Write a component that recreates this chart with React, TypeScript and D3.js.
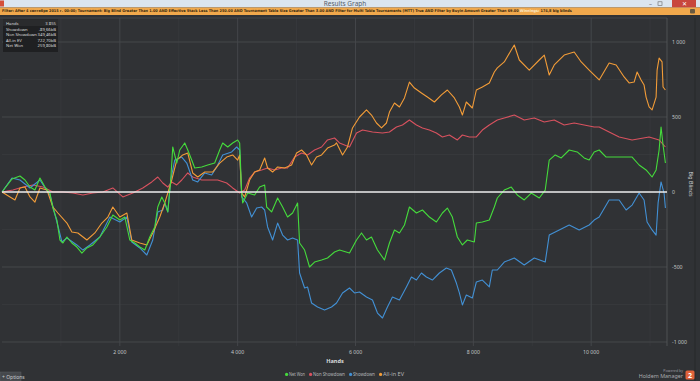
import React from 'react';
import * as d3 from 'd3';

type P = [number, number];

// [hands, big blinds]
const netWon: P[] = [
  [0,0],[170,87],[305,107],[390,80],[475,33],[559,13],[644,93],[730,33],[814,-7],[864,-107],[932,-187],[983,-320],[1034,-340],[1102,-300],[1186,-340],[1271,-367],[1356,-407],[1441,-373],[1542,-353],[1661,-300],[1780,-233],[1881,-153],[2000,-187],[2085,-167],[2169,-320],[2254,-340],[2339,-367],[2424,-387],[2508,-300],[2593,-233],[2644,-100],[2712,-33],[2763,-73],
  [2814,-133],[2864,80],[2898,300],[2966,193],[3017,280],[3102,327],[3153,280],[3220,213],[3271,160],[3390,167],[3492,180],[3610,193],[3695,280],[3746,327],[3831,300],[3915,327],[4000,347],[4034,327],[4068,-7],[4085,-73],[4169,-7],[4288,-20],[4373,33],[4458,47],[4492,-100],[4576,-133],[4678,-40],[4763,-100],[4847,-167],[4932,-140],[5017,-73],[5051,-340],[5136,-387],[5220,-500],[5305,-467],[5424,-453],[5525,-440],[5644,-400],
  [5729,-387],[5898,-407],[6017,-320],[6102,-273],[6186,-320],[6271,-300],[6373,-387],[6492,-453],[6576,-340],[6661,-253],[6746,-273],[6831,-220],[6915,-100],[7034,-140],[7136,-120],[7254,-167],[7373,-200],[7475,-140],[7559,-107],[7644,-167],[7729,-300],[7814,-353],[7898,-320],[8017,-333],[8051,-207],[8153,-200],[8271,-187],[8356,-100],[8407,-40],
  [8525,13],[8644,33],[8746,-20],[8864,-53],[8983,-7],[9119,-40],[9220,13],[9288,213],[9390,247],[9492,227],[9627,280],[9763,267],[9881,227],[9966,213],[10051,267],[10136,280],[10254,233],[10475,233],[10695,233],[10814,180],[10932,147],[11034,100],[11102,147],[11153,280],[11186,433],[11220,313],[11260,193]
];

const showdown: P[] = [
  [0,0],[169,93],[305,80],[475,27],[644,80],[814,-20],[932,-200],[1017,-333],[1102,-307],[1271,-353],[1373,-387],[1492,-353],[1661,-300],[1831,-167],[2000,-200],[2119,-167],[2203,-333],[2339,-373],[2458,-420],[2559,-320],[2644,-133],[2729,-120],[2763,-73],
  [2814,-133],[2864,80],[2932,213],[3051,233],[3136,193],[3237,80],[3322,67],[3441,127],[3559,113],[3644,167],[3746,247],[3898,267],[3983,300],[4034,280],[4068,-33],[4153,-73],[4237,-167],[4322,-107],[4407,-100],[4458,-120],[4508,-233],[4593,-320],[4678,-207],[4763,-287],[4847,-320],[4932,-307],[5017,-320],[5051,-540],[5136,-640],[5186,-633],[5254,-740],[5356,-767],[5475,-787],[5593,-767],
  [5678,-740],[5780,-673],[5898,-640],[5983,-673],[6068,-667],[6186,-700],[6288,-720],[6373,-807],[6458,-840],[6542,-767],[6627,-700],[6746,-720],[6864,-633],[6949,-567],[7034,-587],[7119,-540],[7203,-567],[7305,-587],[7424,-540],[7542,-507],[7627,-520],[7712,-607],[7763,-673],[7814,-753],[7881,-687],[7983,-707],[8051,-600],[8153,-587],[8271,-633],[8322,-520],[8407,-520],
  [8525,-467],[8695,-440],[8864,-487],[9034,-440],[9220,-467],[9288,-287],[9458,-253],[9627,-220],[9797,-253],[9966,-220],[10051,-187],[10136,-167],[10305,-53],[10475,-53],[10593,-120],[10695,-87],[10814,-7],[10898,-53],[10949,-200],[11034,-253],[11102,-287],[11136,-73],[11186,67],[11237,-7],[11260,-107]
];

const nonShowdown: P[] = [
  [0,0],[186,13],[356,33],[525,47],[695,33],[864,0],[1034,0],[1203,-7],[1373,-20],[1542,-7],[1712,0],[1881,27],[2051,-33],[2220,-7],[2390,27],[2542,67],[2644,100],[2729,60],[2814,33],
  [2881,67],[2966,47],[3051,80],[3153,127],[3237,100],[3390,80],[3492,80],[3661,80],[3814,60],[3915,27],[4034,-7],[4119,13],[4203,93],[4288,133],[4407,147],[4508,160],[4627,147],[4746,160],[4847,160],[4966,233],[5085,260],[5186,247],[5305,280],[5424,300],[5525,347],[5644,360],
  [5729,327],[5898,300],[6017,393],[6119,413],[6288,400],[6458,393],[6576,400],[6695,433],[6797,447],[6915,480],[7034,447],[7136,427],[7254,413],[7373,393],[7475,367],[7593,380],[7729,347],[7814,380],[7932,367],[8051,367],[8153,413],[8271,447],[8407,480],
  [8525,493],[8695,513],[8864,480],[9034,493],[9204,467],[9373,480],[9542,447],[9712,460],[9881,447],[10051,433],[10136,433],[10305,400],[10475,367],[10695,347],[10983,367],[11153,347],[11260,300]
];

const allInEV: P[] = [
  [0,0],[136,-33],[220,-53],[305,27],[390,33],[475,-33],[559,-67],[644,27],[763,13],[864,-100],[949,-140],[1102,-207],[1186,-267],[1288,-273],[1441,-320],[1576,-273],[1695,-207],[1797,-167],[1881,-100],[2000,-167],[2119,-140],[2203,-320],[2339,-340],[2458,-353],[2559,-273],[2678,-167],[2763,-73],
  [2881,80],[2966,213],[3068,247],[3153,260],[3237,127],[3322,100],[3441,133],[3576,133],[3695,193],[3814,233],[3915,247],[4000,213],[4034,247],[4068,-7],[4119,-33],[4203,80],[4288,133],[4373,147],[4458,227],[4508,160],[4593,133],[4678,167],[4797,160],[4915,180],[5000,260],[5085,280],[5169,247],[5254,180],[5339,233],[5424,247],[5525,293],[5644,313],
  [5678,327],[5780,247],[5864,300],[5949,427],[6068,500],[6186,547],[6271,513],[6356,460],[6441,427],[6525,460],[6576,533],[6661,593],[6746,567],[6831,627],[6915,733],[7000,693],[7119,660],[7220,633],[7339,600],[7458,647],[7559,680],[7678,627],[7763,567],[7814,513],[7881,600],[7983,560],[8051,680],[8153,700],[8271,727],[8356,800],[8407,827],
  [8525,867],[8644,947],[8695,980],[8780,880],[8949,813],[9119,880],[9204,913],[9288,780],[9373,847],[9542,913],[9712,933],[9831,867],[9966,813],[10136,747],[10305,860],[10424,847],[10559,767],[10644,727],[10729,733],[10780,800],[10847,747],[10898,713],[10932,633],[10983,567],[11034,547],[11102,633],[11119,813],[11153,893],[11203,867],[11220,700],[11260,680]
];

const seriesNames = ['Net Won', 'Non Showdown', 'Showdown', 'All-in EV'];
const seriesColors = ['#45db3c', '#d8525f', '#4290d4', '#f29c38'];

const xTicks = [2000, 4000, 6000, 8000, 10000];
const xTickLabels = ['2 000', '4 000', '6 000', '8 000', '10 000'];
const yTicks = [1000, 500, 0, -500, -1000];
const yTickLabels = ['1 000', '500', '0', '-500', '-1 000'];

const statLabels = ['Hands', 'Showdown', 'Non Showdown', 'All-in EV', 'Net Won'];
const statValues = ['3 855', '-89,66bB', '349,46bB', '722,70bB', '259,80bB'];

const filterText = 'Filter: After 4 сентября 2015 г. 00:00; Tournament: Big Blind Greater Than 1.00 AND Effective Stack Less Than 250.00 AND Tournament Table Size Greater Than 3.00 AND Filter for Multi Table Tournaments (MTT) True AND Filter by Buyin Amount Greater Than 69.00 ';
const winningsLabel = 'Winnings:';
const winningsValue = ' 174,8 big blinds';

const W = 700;
const H = 381;
const FONT = '"Noto Sans", "Open Sans", sans-serif';
const NARROW = '"Liberation Sans Narrow", "DejaVu Sans Condensed", sans-serif';

export default function App() {
  const plot = { left: 2, right: 667, top: 18, bottom: 346 };
  const x = d3.scaleLinear().domain([0, 11270]).range([2, 666]);
  const y = d3.scaleLinear().domain([-1000, 1000]).range([342, 42]);
  const line = d3.line<P>().x(d => x(d[0])).y(d => y(d[1]));

  const minorX = d3.range(1000, 11001, 1000);
  const minorY = d3.range(-1000, 1001, 250);

  const drawOrder: [P[], string][] = [
    [nonShowdown, seriesColors[1]],
    [showdown, seriesColors[2]],
    [allInEV, seriesColors[3]],
    [netWon, seriesColors[0]],
  ];

  // legend layout (text widths in px)
  const legendTextW = [16, 32, 22, 21];
  let lx = 285;
  const legendItems = seriesNames.map((name, i) => {
    const item = { name, color: seriesColors[i], x: lx, w: legendTextW[i] };
    lx += 4 + legendTextW[i] + 4;
    return item;
  });

  return (
    <svg width={W} height={H} style={{ position: 'fixed', left: 0, top: 0, display: 'block' }} fontFamily={FONT}>
      <rect x={0} y={0} width={W} height={H} fill="#303235" />
      {/* title bar */}
      <rect x={0} y={0} width={W} height={7.5} fill="#dbe5ef" />
      <rect x={0} y={0.5} width={4} height={6} fill="#d4503a" />
      <text x={345} y={5.6} fontSize={6.5} fill="#56606b" textAnchor="middle">Results Graph</text>
      <text x={649} y={5.5} fontSize={6} fill="#555">–</text>
      <rect x={658} y={1.8} width={4} height={3.5} fill="none" stroke="#666" strokeWidth={0.6} />
      <rect x={672} y={0} width={24} height={7.5} fill="#c8473d" />
      <text x={684} y={6} fontSize={6} fill="#fff" textAnchor="middle">✕</text>
      {/* filter bar */}
      <rect x={0} y={7.5} width={W} height={7.5} fill="#f0a84c" />
      <text x={2} y={12.4} fontFamily={NARROW} fontWeight="bold" fontSize={3.85} fill="#3a2a10">
        {filterText}
        <tspan fill="#fbe9c8">{winningsLabel}</tspan>
        <tspan>{winningsValue}</tspan>
      </text>
      <rect x={690} y={9} width={5} height={4.5} rx={1} fill="#6a5a40" />

      {/* plot frame */}
      <g stroke="#3a3d40" strokeWidth={0.6}>
        {minorX.map(v => <line key={'mx' + v} x1={x(v)} x2={x(v)} y1={plot.top} y2={plot.bottom} />)}
        {minorY.map(v => <line key={'my' + v} x1={plot.left} x2={plot.right} y1={y(v)} y2={y(v)} />)}
      </g>
      <g stroke="#46494d" strokeWidth={0.8}>
        {xTicks.map(v => <line key={'gx' + v} x1={x(v)} x2={x(v)} y1={plot.top} y2={plot.bottom} />)}
        {yTicks.filter(v => v !== 0).map(v => <line key={'gy' + v} x1={plot.left} x2={plot.right} y1={y(v)} y2={y(v)} />)}
      </g>
      <line x1={0} x2={plot.right} y1={plot.top} y2={plot.top} stroke="#4a4d51" strokeWidth={0.8} />
      <line x1={plot.right} x2={plot.right} y1={plot.top} y2={plot.bottom} stroke="#55585c" strokeWidth={0.8} />
      <line x1={695} x2={695} y1={plot.top} y2={H} stroke="#26282a" strokeWidth={1} />

      {/* series */}
      <g fill="none" strokeWidth={1.1} strokeLinejoin="round">
        {drawOrder.map(([data, color], i) => (
          <path key={i} d={line(data) || ''} stroke={color} />
        ))}
      </g>
      <line x1={plot.left} x2={plot.right} y1={y(0)} y2={y(0)} stroke="#eeeeee" strokeWidth={1.6} />

      {/* y axis */}
      {yTicks.map((v, i) => (
        <text key={'yl' + v} x={672} y={y(v) + 1.8} fontSize={5.2} fill="#c4c6c8">{yTickLabels[i]}</text>
      ))}
      <text transform={`translate(688.5,184) rotate(90)`} fontSize={5.4} fill="#d0d2d4" textAnchor="middle">Big Blinds</text>

      {/* x axis */}
      {xTicks.map((v, i) => (
        <text key={'xl' + v} x={x(v)} y={353.5} fontSize={5.2} fill="#c4c6c8" textAnchor="middle">{xTickLabels[i]}</text>
      ))}
      <text x={335} y={362.5} fontSize={5.6} fontWeight="bold" fill="#d8dadc" textAnchor="middle">Hands</text>

      {/* legend */}
      {legendItems.map(it => (
        <g key={it.name}>
          <circle cx={it.x + 1.6} cy={374.4} r={1.6} fill={it.color} />
          <text x={it.x + 4} y={376.3} fontSize={5.2} fill="#b4b6b8" textLength={it.w} lengthAdjust="spacingAndGlyphs">{it.name}</text>
        </g>
      ))}

      {/* options button */}
      <rect x={0} y={372} width={21} height={9} fill="#45484c" stroke="#5a5d61" strokeWidth={0.5} />
      <text x={2} y={378.5} fontSize={5} fill="#c8cacc">+ Options</text>

      {/* powered by */}
      <text x={683} y={371.5} fontSize={3.6} fill="#9a9ca0" textAnchor="end">Powered by</text>
      <text x={683} y={377.5} fontSize={5.4} fill="#a8aaae" textAnchor="end">Holdem Manager</text>
      <rect x={685.5} y={370.5} width={9} height={9} rx={1.5} fill="#e0623a" />
      <text x={690} y={377.8} fontSize={7} fontWeight="bold" fill="#fff" textAnchor="middle">2</text>

      {/* stats box */}
      <rect x={3} y={19.5} width={55} height={32.5} fill="#1f2022" />
      <rect x={3} y={19.5} width={55} height={6.5} fill="#2a2b2d" />
      {statLabels.map((lab, i) => (
        <g key={lab} fontSize={4.2}>
          <text x={6} y={25 + i * 5.6} fill="#dcdcdc">{lab}</text>
          <text x={56} y={25 + i * 5.6} fill="#dcdcdc" textAnchor="end">{statValues[i]}</text>
        </g>
      ))}
    </svg>
  );
}
